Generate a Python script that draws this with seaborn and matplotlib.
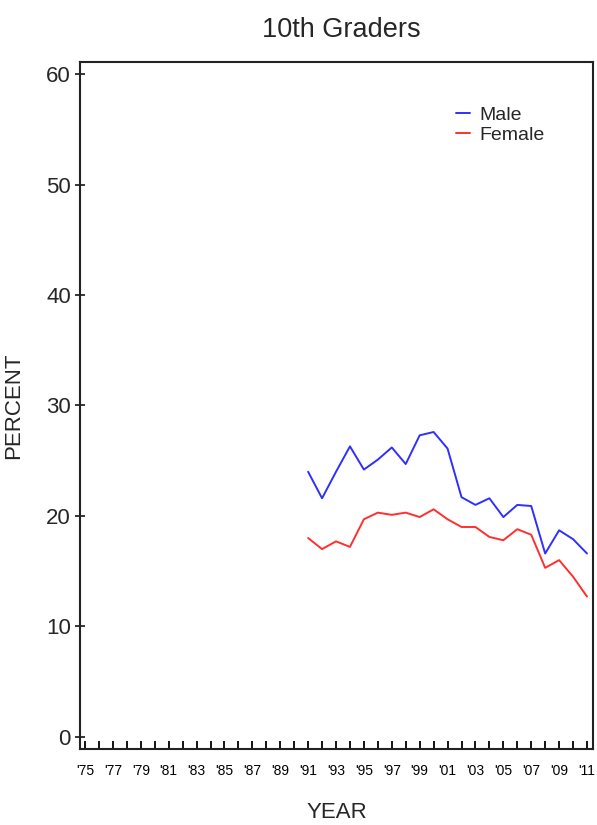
import matplotlib
matplotlib.use("Agg")
import matplotlib.pyplot as plt
import seaborn as sns
import pandas as pd

years = list(range(1991, 2012))
male = [24.0, 21.6, 24.0, 26.3, 24.2, 25.1, 26.2, 24.7, 27.3, 27.6, 26.1,
        21.7, 21.0, 21.6, 19.9, 21.0, 20.9, 16.6, 18.7, 17.9, 16.6]
female = [18.0, 17.0, 17.7, 17.2, 19.7, 20.3, 20.1, 20.3, 19.9, 20.6, 19.7,
          19.0, 19.0, 18.1, 17.8, 18.8, 18.3, 15.3, 16.0, 14.5, 12.7]
tick_years = list(range(1975, 2012))
label_years = list(range(1975, 2012, 2))
y_ticks = [0, 10, 20, 30, 40, 50, 60]

df = pd.DataFrame({
    "year": years * 2,
    "percent": male + female,
    "sex": ["Male"] * len(years) + ["Female"] * len(years),
})

sns.set_style("white")
plt.rcParams["font.family"] = ["Liberation Sans", "DejaVu Sans"]

fig = plt.figure(figsize=(5.97, 8.25), dpi=100)
ax = fig.add_axes([80 / 597, 1 - 749 / 825, 513 / 597, 687 / 825])

sns.lineplot(data=df, x="year", y="percent", hue="sex",
             palette={"Male": "#2f2fff", "Female": "#ff2f2f"},
             linewidth=1.4, ax=ax)

ax.set_xlim(1974.64, 2011.43)
ax.set_ylim(-1.1, 61.1)

ax.set_xticks(tick_years)
ax.set_xticklabels(["'%02d" % (y % 100) if y in label_years else "" for y in tick_years])
ax.tick_params(axis="x", direction="in", length=6, width=1.3, labelsize=10,
               pad=11, bottom=True, colors="black")
ax.set_yticks(y_ticks)
ax.tick_params(axis="y", direction="inout", length=7, width=1.3, labelsize=16,
               pad=3, left=True)

for s in ax.spines.values():
    s.set_color("#222222")
    s.set_linewidth(1.5)

ax.set_title("10th Graders", fontsize=19.5, pad=18, x=0.51)
ax.set_xlabel("YEAR", fontsize=16, labelpad=17)
ax.set_ylabel("PERCENT", fontsize=16, labelpad=16)

leg = ax.legend(loc="upper left", bbox_to_anchor=(0.733, 0.936), frameon=False,
                fontsize=14, handlelength=0.7, handletextpad=0.5,
                borderpad=0, borderaxespad=0, labelspacing=0.15)

fig.savefig("out.png", dpi=100)
